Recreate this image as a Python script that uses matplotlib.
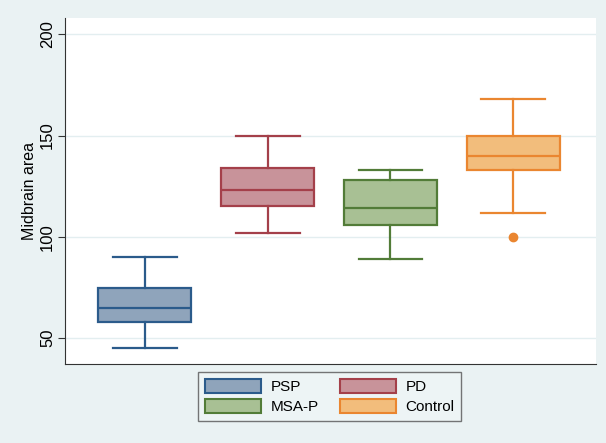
import matplotlib.pyplot as plt
from matplotlib.patches import Patch

plt.rcParams["font.family"] = ["Liberation Sans", "DejaVu Sans"]

# group summaries
groups = ["PSP", "PD", "MSA-P", "Control"]
whislo = [45, 102, 89, 112]
q1 = [58, 115, 106, 133]
med = [65, 123, 114, 140]
q3 = [75, 134, 128, 150]
whishi = [90, 150, 133, 168]
fliers = [[], [], [], [100]]

fills = ["#8fa4bb", "#c8939a", "#a8c094", "#f2bd7c"]
edges = ["#2b5b8b", "#a4404a", "#527c38", "#ea8630"]
bg = "#eaf2f3"

stats = []
for i in range(len(groups)):
    stats.append(dict(label=groups[i], whislo=whislo[i], q1=q1[i], med=med[i],
                      q3=q3[i], whishi=whishi[i], fliers=fliers[i]))

fig = plt.figure(figsize=(6.06, 4.43), dpi=100, facecolor=bg)
ax = fig.add_axes([0.107, 0.178, 0.876, 0.781])

for i, s in enumerate(stats):
    c = edges[i]
    ax.bxp([s], positions=[i + 1], widths=0.76, capwidths=0.52, patch_artist=True,
           boxprops=dict(facecolor=fills[i], edgecolor=c, linewidth=1.6),
           medianprops=dict(color=c, linewidth=1.6),
           whiskerprops=dict(color=c, linewidth=1.6),
           capprops=dict(color=c, linewidth=1.6),
           flierprops=dict(marker="o", markerfacecolor=c, markeredgecolor=c, markersize=6))

ax.set_xlim(0.35, 4.67)
ax.set_ylim(37.2, 207.9)
ax.set_xticks([])
ax.set_yticks([50, 100, 150, 200])
ax.tick_params(axis="y", labelsize=12, length=5, pad=2, color="#333333")
for t in ax.get_yticklabels():
    t.set_rotation(90)
    t.set_va("center")
ax.yaxis.grid(True, color="#e3eef0", linewidth=1)
ax.set_axisbelow(True)
ax.set_ylabel("Midbrain area", fontsize=11.5, labelpad=2)
for side in ["top", "right"]:
    ax.spines[side].set_visible(False)
ax.spines["left"].set_color("#333333")
ax.spines["bottom"].set_color("#333333")

handles = [Patch(facecolor=fills[i], edgecolor=edges[i], linewidth=1.5, label=groups[i])
           for i in range(len(groups))]
order = [0, 2, 1, 3]
leg = fig.legend([handles[j] for j in order], [groups[j] for j in order], ncol=2,
                 loc="center", bbox_to_anchor=(0.544, 0.105), fontsize=11,
                 fancybox=False, frameon=True, handlelength=3.7, handleheight=1.05,
                 handletextpad=0.6, columnspacing=1.4, borderpad=0.45, labelspacing=0.3)
leg.get_frame().set_edgecolor("#555555")
leg.get_frame().set_facecolor("#eef5f6")
leg.get_frame().set_linewidth(1)

fig.savefig("out.png", dpi=100, facecolor=bg)
